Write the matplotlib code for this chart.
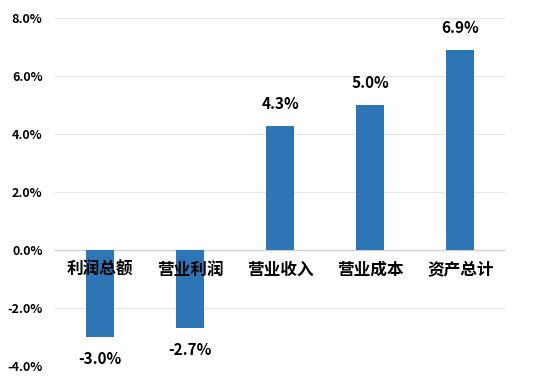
import matplotlib
matplotlib.use("Agg")
import matplotlib.pyplot as plt
from matplotlib.ticker import FuncFormatter

plt.rcParams['font.family'] = ['Noto Sans CJK SC', 'DejaVu Sans']

categories = ["利润总额", "营业利润", "营业收入", "营业成本", "资产总计"]
values = [-3.0, -2.7, 4.3, 5.0, 6.9]
yticks = [-4, -2, 0, 2, 4, 6, 8]

fig = plt.figure(figsize=(5.45, 3.84), dpi=100)
ax = fig.add_axes([0.101, 0.047, 0.826, 0.905])

x = list(range(len(categories)))
ax.bar(x, values, width=0.31, color="#2E75B6", zorder=3)

ax.set_xlim(-0.5, len(categories) - 0.5)
ax.set_ylim(-4, 8)
ax.set_yticks(yticks)
ax.yaxis.set_major_formatter(FuncFormatter(lambda v, p: f"{v:.1f}%"))
for lab in ax.get_yticklabels():
    lab.set_fontweight("bold")
    lab.set_fontsize(9)
ax.tick_params(axis="y", length=0, pad=9)
ax.tick_params(axis="x", length=0, labelbottom=False)
ax.grid(axis="y", color="#E6E6E6", linewidth=0.8, zorder=0)
ax.axhline(0, color="#D0D0D0", linewidth=1.0, zorder=2)
for s in ax.spines.values():
    s.set_visible(False)

for xi, v, c in zip(x, values, categories):
    if v >= 0:
        ax.annotate(f"{v:.1f}%", (xi, v), xytext=(0, 10), textcoords="offset points",
                    ha="center", va="bottom", fontsize=11, fontweight="bold")
    else:
        ax.annotate(f"{v:.1f}%", (xi, v), xytext=(0, -10), textcoords="offset points",
                    ha="center", va="top", fontsize=11, fontweight="bold")
    ax.annotate(c, (xi, 0), xytext=(0, -14), textcoords="offset points",
                ha="center", va="center", fontsize=12, fontweight="bold", zorder=5)

fig.savefig("out.png", dpi=100)
